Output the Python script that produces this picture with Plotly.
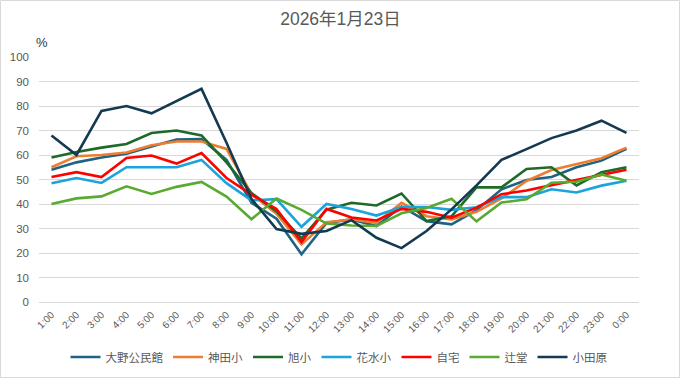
import plotly.graph_objects as go

hours = ["1:00", "2:00", "3:00", "4:00", "5:00", "6:00", "7:00", "8:00", "9:00", "10:00",
         "11:00", "12:00", "13:00", "14:00", "15:00", "16:00", "17:00", "18:00", "19:00",
         "20:00", "21:00", "22:00", "23:00", "0:00"]

ono = [54, 57, 59, 60.5, 63.5, 66.3, 66.5, 58, 40.5, 34, 19.5, 32.3, 33.7, 31, 39, 33, 31.7,
       37.5, 46, 49.8, 51, 55, 57.7, 62.5]
kanda = [55, 59.5, 60, 61, 64, 65.5, 65.5, 62.5, 44, 36, 23.5, 32.6, 33.7, 32.3, 40.5, 35, 33.7,
         36.8, 42.3, 49.4, 53.9, 56.2, 58.7, 63]
asahi = [59, 61.2, 63, 64.5, 69, 70, 68, 57, 44.5, 37, 26, 37.7, 40.5, 39.4, 44.3, 33, 35,
         46.8, 46.8, 54.3, 55, 47.6, 53, 55]
hanamizu = [48.5, 50.6, 48.6, 55, 55, 55, 58, 48.5, 41.5, 42, 30.7, 40, 38, 35.3, 38.8, 38.8,
            37.6, 38.7, 42.8, 42.8, 46, 44.7, 47.5, 49.5]
jitaku = [51, 53, 51, 58.8, 59.8, 56.5, 60.8, 50.6, 43.8, 38, 24.5, 38, 34.5, 33.3, 38, 36.8,
          34.4, 38.5, 44, 45.5, 47.7, 49.8, 51.8, 54]
tsujido = [40, 42.3, 43.1, 47.2, 44.1, 47, 49, 43, 33.8, 42.2, 37.6, 32, 31.2, 31, 36.2, 38.4,
           42.1, 32.9, 40.6, 41.9, 48.7, 49.1, 52, 49.5]
odawara = [68, 60, 78, 80, 77, 82, 87, 65, 42, 29.8, 27.8, 29, 33.4, 26.2, 22, 29, 37.8, 47.6,
           58, 62.4, 66.9, 70, 74, 69]

series = [
    ("大野公民館", ono, "#1f6384"),
    ("神田小", kanda, "#ed7d31"),
    ("旭小", asahi, "#1e6b27"),
    ("花水小", hanamizu, "#1aa3dc"),
    ("自宅", jitaku, "#ff0000"),
    ("辻堂", tsujido, "#58aa30"),
    ("小田原", odawara, "#133a50"),
]

W, H = 681, 379
L, R, T, B = 39, 42, 57, 77
pw, ph = W - L - R, H - T - B

fig = go.Figure()
for name, vals, color in series:
    fig.add_trace(go.Scatter(x=hours, y=vals, mode="lines", name=name,
                             line=dict(color=color, width=2.6)))

FONT = "Liberation Sans, Noto Sans CJK JP, sans-serif"

fig.update_layout(
    width=W, height=H,
    margin=dict(l=L, r=R, t=T, b=B, pad=0, autoexpand=False),
    paper_bgcolor="white", plot_bgcolor="white",
    font=dict(family=FONT, color="#595959", size=11),
    title=dict(text="2026年1月23日", x=0.5, xanchor="center", y=1 - 19 / H, yanchor="middle",
               font=dict(family=FONT, size=17.5, color="#595959")),
    showlegend=True,
    legend=dict(orientation="h", x=0.5, xanchor="center", y=-(357 - (T + ph)) / ph,
                yanchor="middle", font=dict(family=FONT, size=11.5, color="#595959"),
                itemwidth=30, tracegroupgap=0, bgcolor="rgba(0,0,0,0)"),
    xaxis=dict(type="category", range=[-0.5, len(hours) - 0.5], showgrid=False,
               showline=False, zeroline=False, tickangle=-45,
               tickfont=dict(family=FONT, size=10, color="#595959"), ticks="",
               ticklabelstandoff=4),
    yaxis=dict(range=[0, 100], dtick=10, showgrid=True, gridcolor="#d9d9d9", gridwidth=1,
               zeroline=True, zerolinecolor="#d9d9d9", zerolinewidth=1, showline=False,
               ticks="", tickfont=dict(family=FONT, size=11.5, color="#595959"),
               ticklabelstandoff=9),
)

fig.add_annotation(text="%", xref="paper", yref="paper", x=(42 - L) / pw, y=1 + (T - 43) / ph,
                   xanchor="center", yanchor="middle", showarrow=False,
                   font=dict(family=FONT, size=13, color="#333333"))

fig.add_shape(type="rect", xref="paper", yref="paper",
              x0=-(L - 0.5) / pw, x1=1 + (R - 1.5) / pw,
              y0=-(B - 1.5) / ph, y1=1 + (T - 0.5) / ph,
              line=dict(color="#d9d9d9", width=1), fillcolor="rgba(0,0,0,0)", layer="below")

fig.write_html("out.html", config={"displayModeBar": False},
               post_script="document.body.style.margin='0';document.body.style.overflow='hidden';")
